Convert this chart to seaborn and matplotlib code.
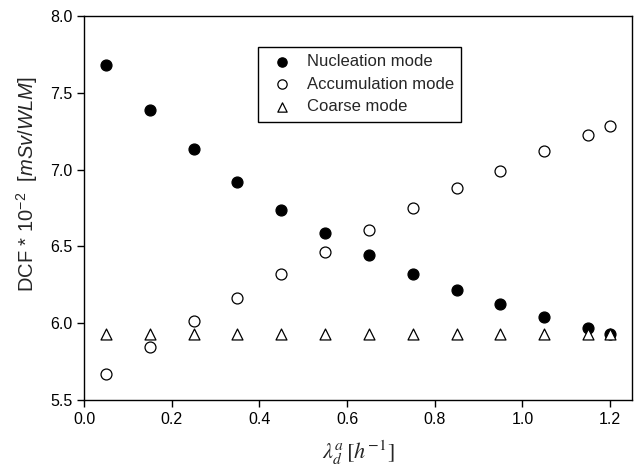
import matplotlib
matplotlib.use("Agg")
import matplotlib.pyplot as plt
import seaborn as sns
import pandas as pd

# deposition rate of attached fraction, h^-1
lam = [0.05, 0.15, 0.25, 0.35, 0.45, 0.55, 0.65, 0.75, 0.85, 0.95, 1.05, 1.15, 1.20]
nucleation = [7.681, 7.386, 7.134, 6.917, 6.735, 6.587, 6.442, 6.320, 6.216, 6.127, 6.038, 5.967, 5.928]
accumulation = [5.671, 5.847, 6.016, 6.166, 6.322, 6.465, 6.606, 6.748, 6.878, 6.993, 7.121, 7.225, 7.284]
coarse = [5.932] * 13

series_names = ["Nucleation mode", "Accumulation mode", "Coarse mode"]

sns.set_style("white")
plt.rcParams["font.family"] = ["Liberation Sans", "DejaVu Sans"]
plt.rcParams["mathtext.fontset"] = "custom"
plt.rcParams["mathtext.rm"] = "Liberation Sans"
plt.rcParams["mathtext.it"] = "Liberation Sans:italic"

df = pd.DataFrame({
    "lam": lam * 3,
    "dcf": nucleation + accumulation + coarse,
    "mode": [series_names[0]] * 13 + [series_names[1]] * 13 + [series_names[2]] * 13,
})

fig = plt.figure(figsize=(6.38, 4.67), dpi=100)
ax = fig.add_axes([0.1317, 0.1435, 0.8589, 0.8222])

styles = {
    series_names[0]: dict(marker="o", facecolor="black", s=62),
    series_names[1]: dict(marker="o", facecolor="white", s=62),
    series_names[2]: dict(marker="^", facecolor="white", s=62),
}
for name in series_names:
    sub = df[df["mode"] == name]
    st = styles[name]
    sns.scatterplot(data=sub, x="lam", y="dcf", ax=ax, marker=st["marker"],
                    color=st["facecolor"], edgecolor="black", linewidth=0.9,
                    s=st["s"], label=name, zorder=3)

ax.set_xlim(0, 1.25)
ax.set_ylim(5.5, 8.0)
ax.set_xticks([0.0, 0.2, 0.4, 0.6, 0.8, 1.0, 1.2])
ax.set_yticks([5.5, 6.0, 6.5, 7.0, 7.5, 8.0])
ax.xaxis.set_major_formatter(matplotlib.ticker.FormatStrFormatter("%.1f"))
ax.yaxis.set_major_formatter(matplotlib.ticker.FormatStrFormatter("%.1f"))
ax.tick_params(axis="both", which="major", direction="out", length=5, width=1,
               labelsize=11.5, color="black", labelcolor="black",
               bottom=True, left=True, top=False, right=False)
for sp in ax.spines.values():
    sp.set_color("black")
    sp.set_linewidth(1.0)

ax.set_ylabel(r"DCF * 10$^{-2}$  [$\mathit{mSv/WLM}$]", fontsize=14.5)
ax.yaxis.set_label_coords(-0.08, 0.5625)
ax.set_xlabel(r"$\lambda_d^a\,[h^{-1}]$", fontsize=16, math_fontfamily="stix")
ax.xaxis.set_label_coords(0.5, -0.1)

leg = ax.legend(loc="upper left", bbox_to_anchor=(0.318, 0.92), fontsize=12,
                frameon=True, fancybox=False, edgecolor="black", framealpha=1,
                borderpad=0.45, handletextpad=0.45, labelspacing=0.45, borderaxespad=0,
                markerscale=0.85)
leg.get_frame().set_linewidth(1.0)

fig.savefig("out.png", dpi=100)
